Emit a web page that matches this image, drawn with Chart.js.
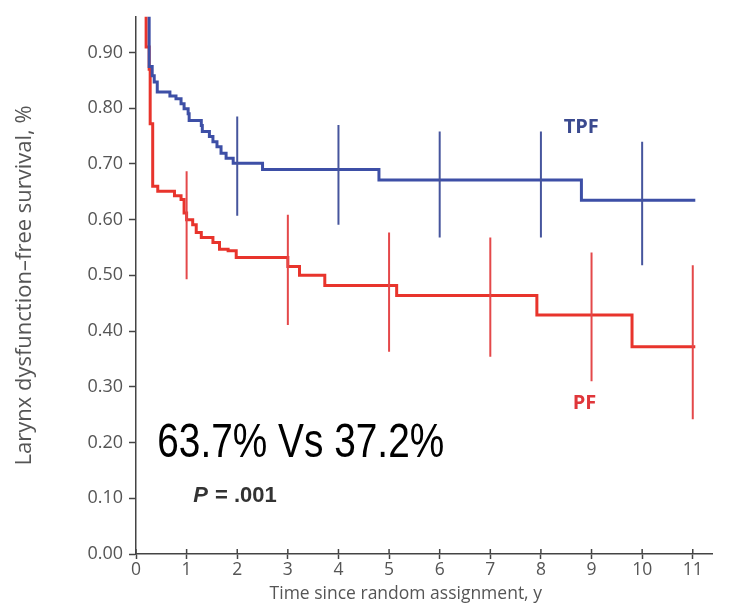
<!DOCTYPE html>
<html>
<head>
<meta charset="utf-8">
<script src="https://cdn.jsdelivr.net/npm/chart.js@4.4.1/dist/chart.umd.min.js"></script>
<style>
  body { margin: 0; background: #fff; }
</style>
</head>
<body>
<canvas id="km" width="729" height="607"></canvas>
<script>
// Kaplan-Meier steps (time in years, survival fraction)
const tpfTime = [0, 0.26, 0.32, 0.36, 0.42, 0.67, 0.79, 0.89, 0.95, 1.03, 1.05, 1.29, 1.31, 1.45, 1.52, 1.6, 1.68, 1.78, 1.92, 2.5, 4.8, 8.8, 11.05];
const tpfSurv = [1, 0.875, 0.858, 0.847, 0.829, 0.822, 0.817, 0.808, 0.799, 0.79, 0.778, 0.769, 0.758, 0.749, 0.74, 0.731, 0.719, 0.71, 0.701, 0.69, 0.671, 0.635, 0.635];
const pfTime = [0, 0.2, 0.26, 0.28, 0.33, 0.43, 0.76, 0.89, 0.95, 1.0, 1.12, 1.19, 1.29, 1.52, 1.65, 1.82, 1.98, 3.0, 3.23, 3.73, 5.15, 7.92, 9.8, 11.05];
const pfSurv = [1, 0.91, 0.87, 0.772, 0.66, 0.651, 0.643, 0.636, 0.612, 0.6, 0.591, 0.577, 0.568, 0.559, 0.547, 0.544, 0.532, 0.516, 0.5, 0.482, 0.464, 0.429, 0.372, 0.372];

// confidence interval bars
const tpfCiTime = [2, 4, 6, 8, 10];
const tpfCiLow = [0.607, 0.591, 0.568, 0.568, 0.518];
const tpfCiHigh = [0.785, 0.77, 0.758, 0.758, 0.74];
const pfCiTime = [1, 3, 5, 7, 9, 11];
const pfCiLow = [0.493, 0.411, 0.363, 0.354, 0.31, 0.242];
const pfCiHigh = [0.687, 0.609, 0.577, 0.568, 0.541, 0.518];

const xTicks = [0, 1, 2, 3, 4, 5, 6, 7, 8, 9, 10, 11];
const yTicks = [0, 0.1, 0.2, 0.3, 0.4, 0.5, 0.6, 0.7, 0.8, 0.9];

const BLUE = "#3d4fa6";
const RED = "#e8342c";

const toPoints = (xs, ys) => xs.map((t, i) => ({ x: t, y: ys[i] }));

// each bar is two points, then a gap
const ciPoints = (xs, lo, hi) => {
  const pts = [];
  xs.forEach((t, i) => {
    pts.push({ x: t, y: lo[i] }, { x: t, y: hi[i] }, { x: t, y: null });
  });
  return pts;
};

const notes = {
  id: "notes",
  afterDatasetsDraw(chart) {
    const { ctx, chartArea, scales } = chart;
    const x = scales.x;
    const y = scales.y;
    ctx.save();

    // x ticks go through the axis line
    ctx.strokeStyle = "#444";
    ctx.lineWidth = 1.5;
    xTicks.forEach((t) => {
      const px = x.getPixelForValue(t);
      ctx.beginPath();
      ctx.moveTo(px, chartArea.bottom);
      ctx.lineTo(px, chartArea.bottom - 5);
      ctx.stroke();
    });

    ctx.textBaseline = "alphabetic";
    ctx.textAlign = "left";

    ctx.fillStyle = "#3b4a8f";
    ctx.font = "bold 20px 'Open Sans', sans-serif";
    ctx.fillText("TPF", x.getPixelForValue(8.45), y.getPixelForValue(0.755));

    ctx.fillStyle = "#e0363a";
    ctx.fillText("PF", x.getPixelForValue(8.63), y.getPixelForValue(0.261));

    // big comparison text, squeezed to the width of the original
    ctx.fillStyle = "#000";
    ctx.font = "49px 'Liberation Sans Narrow', 'Liberation Sans', Arial, sans-serif";
    const big = "63.7% Vs 37.2%";
    const w = ctx.measureText(big).width;
    const bx = x.getPixelForValue(0.42);
    const by = y.getPixelForValue(0.174);
    ctx.save();
    ctx.translate(bx, by);
    ctx.scale(287 / w, 1);
    ctx.fillText(big, 0, 0);
    ctx.restore();

    ctx.fillStyle = "#333";
    ctx.font = "italic bold 22px 'Liberation Sans', Arial, sans-serif";
    const px0 = x.getPixelForValue(1.13);
    const py0 = y.getPixelForValue(0.093);
    ctx.fillText("P", px0, py0);
    const pw = ctx.measureText("P").width;
    ctx.font = "bold 22px 'Liberation Sans', Arial, sans-serif";
    ctx.fillText(" = .001", px0 + pw + 1, py0);

    // x axis title
    ctx.fillStyle = "#555";
    ctx.font = "17.5px 'Open Sans', sans-serif";
    ctx.textAlign = "center";
    ctx.fillText("Time since random assignment, y", x.getPixelForValue(5.33), chartArea.bottom + 45);

    ctx.restore();
  },
};

const ctx = document.getElementById("km").getContext("2d");
new Chart(ctx, {
  type: "line",
  data: {
    datasets: [
      {
        label: "TPF CI",
        data: ciPoints(tpfCiTime, tpfCiLow, tpfCiHigh),
        borderColor: "#46559d",
        borderWidth: 2,
        pointRadius: 0,
        spanGaps: false,
      },
      {
        label: "PF CI",
        data: ciPoints(pfCiTime, pfCiLow, pfCiHigh),
        borderColor: "#e4484a",
        borderWidth: 2,
        pointRadius: 0,
        spanGaps: false,
      },
      {
        label: "TPF",
        data: toPoints(tpfTime, tpfSurv),
        borderColor: BLUE,
        borderWidth: 3,
        pointRadius: 0,
        stepped: "before",
      },
      {
        label: "PF",
        data: toPoints(pfTime, pfSurv),
        borderColor: RED,
        borderWidth: 3,
        pointRadius: 0,
        stepped: "before",
      },
    ],
  },
  options: {
    responsive: false,
    animation: false,
    layout: { padding: { top: 12, right: 17, left: 0, bottom: 0 } },
    plugins: {
      legend: { display: false },
      tooltip: { enabled: false },
    },
    scales: {
      x: {
        type: "linear",
        min: 0,
        max: 11.38,
        afterBuildTicks: (scale) => {
          scale.ticks = xTicks.map((v) => ({ value: v }));
        },
        afterFit: (scale) => {
          scale.height = 53;
        },
        ticks: {
          color: "#555",
          font: { family: "'Open Sans', sans-serif", size: 17.5 },
          padding: 1,
          maxRotation: 0,
        },
        grid: {
          drawOnChartArea: false,
          tickLength: 5,
          tickWidth: 1.5,
          tickColor: "#444",
        },
        border: { color: "#444", width: 1.5 },
      },
      y: {
        type: "linear",
        min: 0,
        max: 0.964,
        afterBuildTicks: (scale) => {
          scale.ticks = yTicks.map((v) => ({ value: v }));
        },
        afterFit: (scale) => {
          scale.width = 136;
        },
        ticks: {
          color: "#555",
          font: { family: "'Open Sans', sans-serif", size: 18 },
          padding: 6,
          callback: (v) => Number(v).toFixed(2),
        },
        grid: {
          drawOnChartArea: false,
          tickLength: 7,
          tickWidth: 1.5,
          tickColor: "#444",
        },
        border: { color: "#444", width: 1.5 },
        title: {
          display: true,
          text: "Larynx dysfunction\u2013free survival, %",
          color: "#555",
          font: { family: "'Open Sans', sans-serif", size: 22 },
          padding: { top: 12, bottom: 0 },
        },
      },
    },
  },
  plugins: [notes],
});
</script>
</body>
</html>
